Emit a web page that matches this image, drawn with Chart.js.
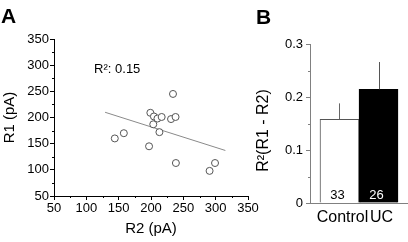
<!DOCTYPE html>
<html>
<head>
<meta charset="utf-8">
<script src="https://cdn.jsdelivr.net/npm/chart.js@4/dist/chart.umd.min.js"></script>
<style>
  html, body { margin: 0; padding: 0; background: #fff; }
  #wrap { position: relative; width: 408px; height: 242px; overflow: hidden; }
  canvas { position: absolute; top: 0; }
  #cA { left: 0; }
  #cB { left: 250px; }
  .panel { position: absolute; font-family: 'Liberation Sans', Arial, sans-serif; font-weight: bold; font-size: 21px; line-height: 21px; color: #000; }
</style>
</head>
<body>
<div id="wrap">
  <canvas id="cA" width="260" height="242"></canvas>
  <canvas id="cB" width="158" height="242"></canvas>
  <div class="panel" style="left:1px; top:5px;">A</div>
  <div class="panel" style="left:256px; top:6px;">B</div>
</div>
<script>
// ---- Panel A data ----
const r2Values = [144, 158, 197, 199, 204.5, 203.5, 210, 216.5, 213, 231, 238, 234, 238.5, 290.6, 299];
const r1Values = [160, 170, 145, 209, 202, 187, 198, 201, 172, 197, 201, 245, 113, 98, 113];
const fitR2 = [129, 315];
const fitR1 = [210, 137];
const r2Label = 'R\u00B2: 0.15';
const axisAMin = 50, axisAMax = 350, axisAStep = 50;

// ---- Panel B data ----
const groups = ['Control', 'UC'];
const meanR2 = [0.158, 0.2145];
const semR2 = [0.030, 0.0515];
const nCells = [33, 26];
const axisBMin = 0, axisBMax = 0.3, axisBStep = 0.1;

Chart.defaults.font.family = "'Liberation Sans', Arial, sans-serif";
Chart.defaults.color = '#000';
Chart.defaults.animation = false;

function drawMinor(chart, scale, len, color) {
  const ctx = chart.ctx;
  const ticks = scale.ticks;
  ctx.save();
  ctx.strokeStyle = color;
  ctx.lineWidth = 1;
  ctx.beginPath();
  for (let i = 0; i < ticks.length - 1; i++) {
    const v = (ticks[i].value + ticks[i + 1].value) / 2;
    const p = Math.round(scale.getPixelForValue(v)) + 0.5;
    if (scale.axis === 'x') {
      const y = chart.chartArea.bottom;
      ctx.moveTo(p, y); ctx.lineTo(p, y + len);
    } else {
      const x = chart.chartArea.left;
      ctx.moveTo(x, p); ctx.lineTo(x - len, p);
    }
  }
  ctx.stroke();
  ctx.restore();
}

// ---- Chart A ----
const annA = { x: 112, y: 291 };
new Chart(document.getElementById('cA'), {
  data: {
    datasets: [
      {
        type: 'scatter',
        data: r2Values.map((v, i) => ({ x: v, y: r1Values[i] })),
        pointRadius: 3.5,
        pointHoverRadius: 3.5,
        borderColor: '#555',
        backgroundColor: '#fff',
        borderWidth: 1,
        order: 0
      },
      {
        type: 'line',
        data: fitR2.map((v, i) => ({ x: v, y: fitR1[i] })),
        borderColor: '#8a8a8a',
        borderWidth: 1,
        pointRadius: 0,
        fill: false,
        order: 1
      }
    ]
  },
  options: {
    responsive: false,
    events: [],
    layout: { padding: { top: 39, right: 12, left: 0, bottom: 0 } },
    plugins: { legend: { display: false }, tooltip: { enabled: false } },
    scales: {
      x: {
        type: 'linear', min: axisAMin, max: axisAMax,
        ticks: { stepSize: axisAStep, font: { size: 13 }, padding: 1, color: '#000', maxRotation: 0 },
        grid: { drawOnChartArea: false, tickLength: 4, color: '#000' },
        border: { color: '#000' },
        title: { display: true, text: 'R2 (pA)', font: { size: 15 }, padding: { top: 0, bottom: 4 }, color: '#000' },
        afterFit: s => { s.height = 46; }
      },
      y: {
        type: 'linear', min: axisAMin, max: axisAMax,
        ticks: { stepSize: axisAStep, font: { size: 13 }, padding: 1, color: '#000' },
        grid: { drawOnChartArea: false, tickLength: 4, color: '#000' },
        border: { color: '#000' },
        title: { display: true, text: 'R1 (pA)', font: { size: 15 }, padding: { top: 1, bottom: 0 }, color: '#000' },
        afterFit: s => { s.width = 54; }
      }
    }
  },
  plugins: [{
    id: 'extrasA',
    afterDraw(chart) {
      drawMinor(chart, chart.scales.x, 2, '#000');
      drawMinor(chart, chart.scales.y, 2, '#000');
      const ctx = chart.ctx;
      ctx.save();
      ctx.font = "13px 'Liberation Sans', Arial, sans-serif";
      ctx.fillStyle = '#000';
      ctx.textBaseline = 'middle';
      ctx.textAlign = 'left';
      ctx.fillText(r2Label, chart.scales.x.getPixelForValue(annA.x), chart.scales.y.getPixelForValue(annA.y));
      ctx.restore();
    }
  }]
});

// ---- Chart B ----
const axisGrey = '#808080';
new Chart(document.getElementById('cB'), {
  type: 'bar',
  data: {
    datasets: [{
      data: meanR2.map((v, i) => ({ x: i, y: v })),
      backgroundColor: ['#fff', '#000'],
      borderColor: ['#555', '#000'],
      borderWidth: 1,
      borderSkipped: 'start',
      barThickness: 39
    }]
  },
  options: {
    responsive: false,
    events: [],
    layout: { padding: { top: 44, right: 0, left: 0, bottom: 0 } },
    plugins: { legend: { display: false }, tooltip: { enabled: false } },
    scales: {
      x: {
        type: 'linear', min: -0.756, max: 1.756, offset: false,
        afterBuildTicks: s => { s.ticks = groups.map((g, i) => ({ value: i })); },
        ticks: { font: { size: 16 }, padding: 5, color: '#000', autoSkip: false, maxRotation: 0, minRotation: 0,
                 labelOffset: 3, callback: (v, i) => groups[i] },
        grid: { drawOnChartArea: false, drawTicks: false, offset: false, color: axisGrey },
        border: { color: axisGrey },
        afterFit: s => { s.height = 39; }
      },
      y: {
        type: 'linear', min: axisBMin, max: axisBMax,
        ticks: { stepSize: axisBStep, font: { size: 13 }, padding: 3, color: '#000',
                 callback: v => (Math.round(v * 10) / 10).toString() },
        grid: { drawOnChartArea: false, tickLength: 4, color: axisGrey },
        border: { color: axisGrey },
        afterFit: s => { s.width = 60; }
      }
    }
  },
  plugins: [{
    id: 'extrasB',
    afterDatasetsDraw(chart) {
      const ctx = chart.ctx;
      const xs = chart.scales.x, ys = chart.scales.y;
      ctx.save();
      ctx.lineWidth = 1;
      meanR2.forEach((m, i) => {
        const x = Math.round(xs.getPixelForValue(i)) + 0.5;
        ctx.strokeStyle = i === 0 ? '#666' : '#555';
        ctx.beginPath();
        ctx.moveTo(x, ys.getPixelForValue(m));
        ctx.lineTo(x, ys.getPixelForValue(m + semR2[i]));
        ctx.stroke();
      });
      ctx.font = "13px 'Liberation Sans', Arial, sans-serif";
      ctx.textAlign = 'center';
      ctx.textBaseline = 'middle';
      nCells.forEach((n, i) => {
        ctx.fillStyle = i === 0 ? '#000' : '#fff';
        ctx.fillText(String(n), xs.getPixelForValue(i) - 2, ys.getPixelForValue(0) - 8);
      });
      ctx.restore();
    },
    afterDraw(chart) {
      drawMinor(chart, chart.scales.y, 2, axisGrey);
      const ctx = chart.ctx;
      ctx.save();
      ctx.font = "16px 'Liberation Sans', Arial, sans-serif";
      ctx.fillStyle = '#000';
      ctx.textAlign = 'center';
      ctx.textBaseline = 'middle';
      ctx.translate(13.5, 130.5);
      ctx.rotate(-Math.PI / 2);
      ctx.fillText('R\u00B2(R1 - R2)', 0, 0);
      ctx.restore();
    }
  }]
});
</script>
</body>
</html>
